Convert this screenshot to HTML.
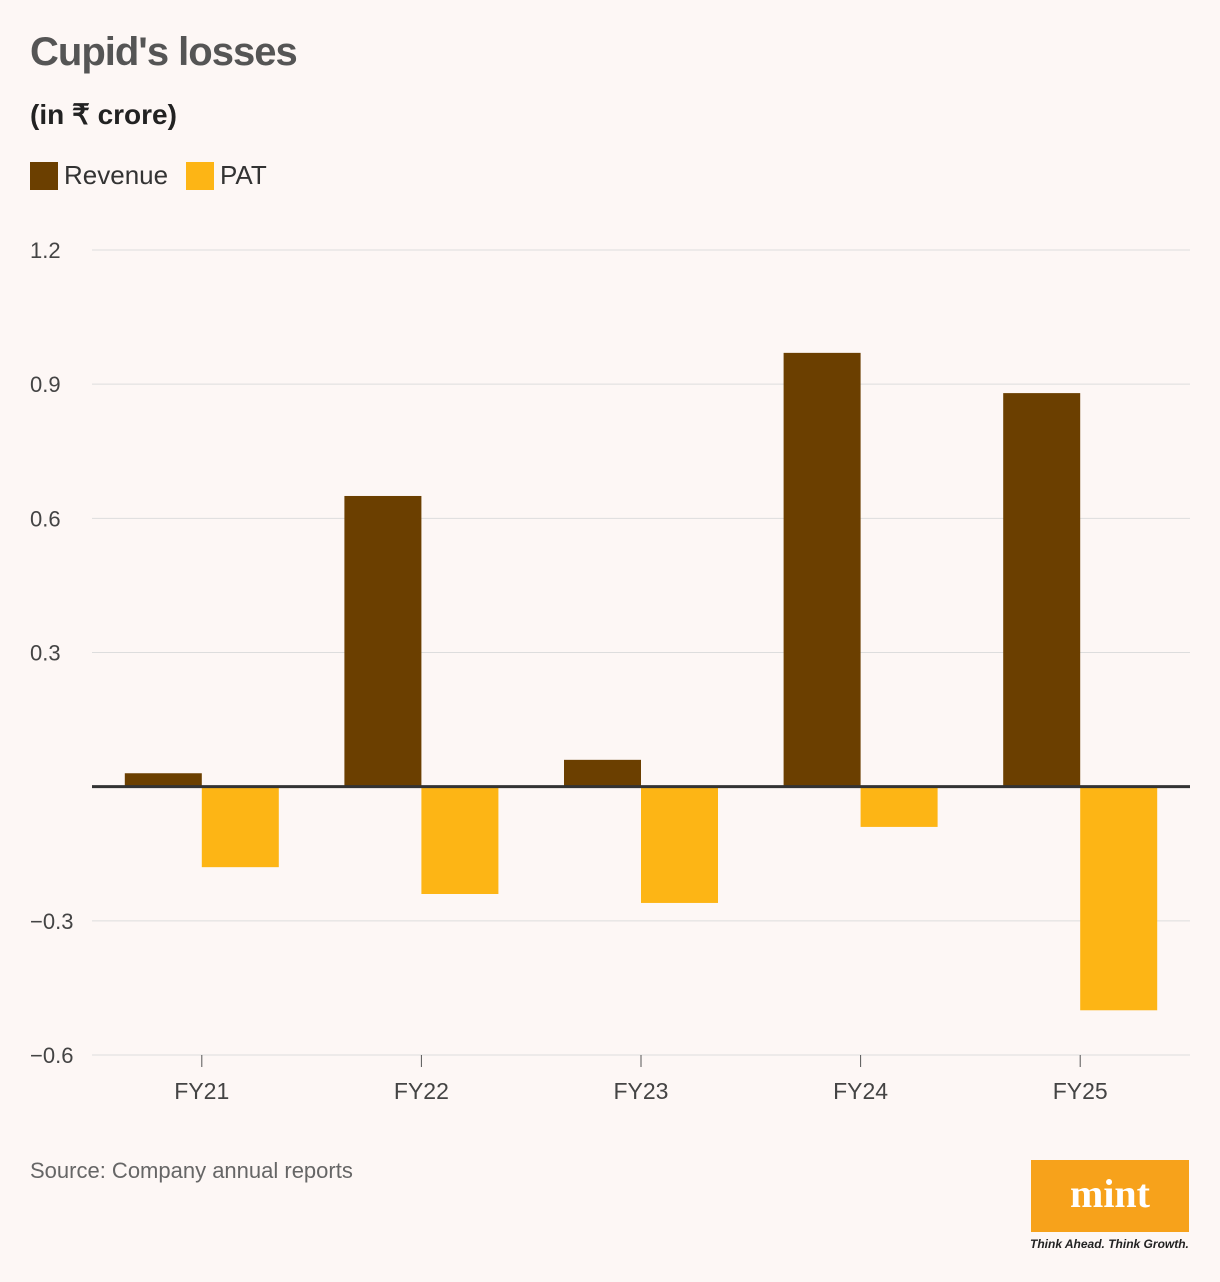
<!DOCTYPE html>
<html><head><meta charset="utf-8"><style>
body{margin:0;background:#fdf7f5;font-family:"Liberation Sans",sans-serif;}
#wrap{position:relative;width:1220px;height:1282px;background:#fdf7f5;overflow:hidden}
</style></head><body>
<div id="wrap">
<div style="position:absolute;left:30px;top:30px;font-size:40px;font-weight:bold;color:#555;letter-spacing:-1px">Cupid's losses</div>
<div style="position:absolute;left:30px;top:98px;font-size:28px;font-weight:bold;color:#222">(in ₹ crore)</div>
<div style="position:absolute;left:30px;top:160px;font-size:26px;color:#333;display:flex;align-items:center"><span style="display:inline-block;width:28px;height:28px;background:#6b3f00;margin-right:6px"></span>Revenue</div>
<div style="position:absolute;left:186px;top:160px;font-size:26px;color:#333;display:flex;align-items:center"><span style="display:inline-block;width:28px;height:28px;background:#fdb515;margin-right:6px"></span>PAT</div>
<svg id="chart" width="1220" height="1282" style="position:absolute;left:0;top:0"></svg>
<div style="position:absolute;left:30px;top:1158px;font-size:22px;color:#666">Source: Company annual reports</div>
<div style="position:absolute;left:1031px;top:1160px;width:158px;height:72px;background:#f7a21b;color:#fff;font-family:'Liberation Serif',serif;font-weight:bold;font-size:40px;text-align:center;line-height:68px">mint</div>
<div style="position:absolute;left:1030px;top:1237px;font-size:12px;font-style:italic;font-weight:bold;color:#222">Think Ahead. Think Growth.</div>
</div>
<script>
const categories=["FY21","FY22","FY23","FY24","FY25"];
const revenue=[0.03,0.65,0.06,0.97,0.88];
const pat=[-0.18,-0.24,-0.26,-0.09,-0.50];
const ticks=[1.2,0.9,0.6,0.3,0,-0.3,-0.6];
const tickLabels=["1.2","0.9","0.6","0.3","","−0.3","−0.6"];
const svg=document.getElementById('chart');
const NS='http://www.w3.org/2000/svg';
const x0=92,x1=1190,yTop=250,yBot=1055,vMax=1.2,vMin=-0.6;
const y=v=>yTop+(vMax-v)/(vMax-vMin)*(yBot-yTop);
const band=(x1-x0)/categories.length;
const cx=i=>x0+band*(i+0.5);
const bw=77;
function mk(t,a){const e=document.createElementNS(NS,t);for(const k in a)e.setAttribute(k,a[k]);svg.appendChild(e);return e;}
ticks.forEach((t,i)=>{
 if(t!==0){const l=mk('line',{x1:x0,x2:x1,y1:y(t),y2:y(t),stroke:'#ddd','stroke-width':1});
 
 }
 const tx=mk('text',{x:30,y:y(t)+8,'font-size':22,fill:'#444','font-family':'Liberation Sans'});
 tx.textContent=tickLabels[i];
 
 
});
categories.forEach((c,i)=>{
 const r=revenue[i],p=pat[i];
 const b1=mk('rect',{x:cx(i)-bw,y:Math.min(y(r),y(0)),width:bw,height:Math.abs(y(r)-y(0)),fill:'#6b3f00'});
 
 
 const b2=mk('rect',{x:cx(i),y:Math.min(y(p),y(0)),width:bw,height:Math.abs(y(p)-y(0)),fill:'#fdb515'});
 
 
 const tk=mk('line',{x1:cx(i),x2:cx(i),y1:yBot,y2:yBot+12,stroke:'#555','stroke-width':1});
 
 
 const tl=mk('text',{x:cx(i),y:yBot+44,'font-size':23,fill:'#444','text-anchor':'middle','font-family':'Liberation Sans'});
 tl.textContent=c;
 
 
});
const z=mk('line',{x1:x0,x2:x1,y1:y(0),y2:y(0),stroke:'#333','stroke-width':3});


</script>
</body></html>
